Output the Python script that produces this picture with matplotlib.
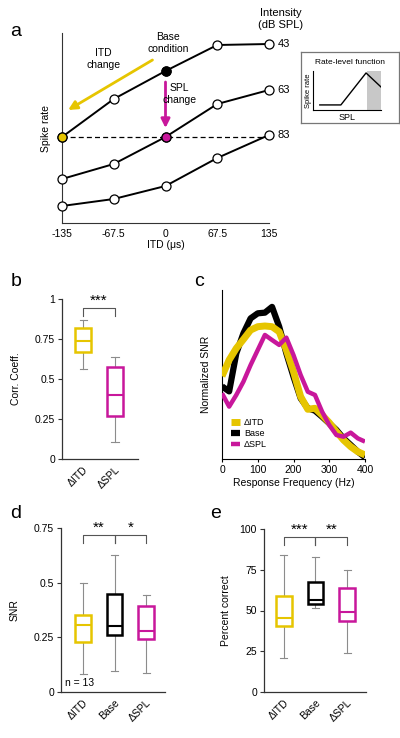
import matplotlib
matplotlib.use("Agg")
import matplotlib.pyplot as plt
import numpy as np

plt.rcParams['font.family'] = ['Liberation Sans', 'DejaVu Sans']

YEL = '#e6c500'
MAG = '#c8179b'
BLK = '#000000'
GRY = '#8c8c8c'

# ---- panel a: schematic tuning curves
itd = [-135, -67.5, 0, 67.5, 135]
rate_43 = [86, 124, 152, 178, 179]
rate_63 = [44, 59, 86, 119, 133]
rate_83 = [17, 24, 37, 65, 88]
intensities = ['43', '63', '83']

# inset rate-level function
rl_spl = [0.1, 0.41, 0.78, 1.0]
rl_rate = [0.13, 0.13, 0.95, 0.59]

# ---- panel b: correlation coefficients
b_labels = ['\u0394ITD', '\u0394SPL']
b_stats = {  # whislo, q1, med, q3, whishi
    '\u0394ITD': [0.56, 0.667, 0.74, 0.82, 0.87],
    '\u0394SPL': [0.108, 0.27, 0.40, 0.573, 0.64],
}

# ---- panel c: normalized SNR vs response frequency
freq = [0, 20, 40, 60, 80, 100, 120, 140, 160, 180, 200,
        220, 240, 260, 280, 300, 320, 340, 360, 380, 400]
snr_itd = [0.49, 0.586, 0.655, 0.708, 0.763, 0.783, 0.787, 0.783, 0.753, 0.645, 0.517,
           0.369, 0.294, 0.30, 0.26, 0.215, 0.162, 0.112, 0.073, 0.043, 0.024]
snr_base = [0.43, 0.40, 0.625, 0.744, 0.832, 0.862, 0.866, 0.90, 0.783, 0.625, 0.487,
            0.359, 0.30, 0.286, 0.25, 0.211, 0.172, 0.122, 0.083, 0.043, 0.01]
snr_spl = [0.389, 0.31, 0.379, 0.458, 0.556, 0.645, 0.734, 0.704, 0.675, 0.718, 0.615,
           0.497, 0.398, 0.379, 0.28, 0.201, 0.142, 0.132, 0.156, 0.122, 0.103]

# ---- panels d, e
de_labels = ['\u0394ITD', 'Base', '\u0394SPL']
d_stats = {
    '\u0394ITD': [0.082, 0.229, 0.305, 0.351, 0.50],
    'Base': [0.097, 0.262, 0.302, 0.448, 0.625],
    '\u0394SPL': [0.086, 0.244, 0.278, 0.393, 0.444],
}
e_stats = {
    '\u0394ITD': [21, 40.4, 45.7, 58.8, 84],
    'Base': [51.6, 54.1, 56.3, 67.4, 82.9],
    '\u0394SPL': [23.7, 43.3, 48.8, 64.1, 74.9],
}

W, H = 400, 738
fig = plt.figure(figsize=(W / 100, H / 100), dpi=100)


def rect(left, top, right, bottom):
    return [left / W, 1 - bottom / H, (right - left) / W, (bottom - top) / H]


def label(x, y, s):
    fig.text(x / W, 1 - y / H, s, fontsize=14, ha='center', va='center')


# ================= panel a
ax = fig.add_axes(rect(62, 33, 269, 223))
for ys in (rate_43, rate_63, rate_83):
    ax.plot(itd, ys, color=BLK, lw=1.4, marker='o', ms=6.5, mfc='white',
            mec=BLK, mew=0.9, clip_on=False, zorder=3)
ax.plot([itd[0], itd[-1]], [rate_43[0], rate_43[0]], ls=(0, (4, 2.5)), color=BLK,
        lw=0.9, zorder=2)
ax.plot(itd[2], rate_43[2], 'o', ms=6.5, mfc=BLK, mec=BLK, zorder=4)
ax.plot(itd[0], rate_43[0], 'o', ms=6.5, mfc=YEL, mec=BLK, mew=0.9, zorder=4, clip_on=False)
ax.plot(itd[2], rate_63[2], 'o', ms=6.5, mfc=MAG, mec=BLK, mew=0.9, zorder=4)
for ys, lab in zip((rate_43, rate_63, rate_83), intensities):
    ax.text(itd[-1] + 11, ys[-1], lab, fontsize=8, va='center', ha='left')
ax.annotate('', xy=(-127, 113), xytext=(-17, 163),
            arrowprops=dict(arrowstyle='-|>', color=YEL, lw=2, mutation_scale=13,
                            shrinkA=0, shrinkB=0))
ax.annotate('', xy=(0, 95), xytext=(0, 141),
            arrowprops=dict(arrowstyle='-|>', color=MAG, lw=2, mutation_scale=13,
                            shrinkA=0, shrinkB=0))
ax.text(-81, 164, 'ITD\nchange', fontsize=7.5, ha='center', va='center', linespacing=1.3)
ax.text(3, 180, 'Base\ncondition', fontsize=7.5, ha='center', va='center', linespacing=1.3)
ax.text(18, 129, 'SPL\nchange', fontsize=7.5, ha='center', va='center', linespacing=1.3)
ax.text(150, 204, 'Intensity\n(dB SPL)', fontsize=8, ha='center', va='center', linespacing=1.2)
ax.set_xlim(-135, 135)
ax.set_ylim(0, 190)
ax.set_xticks(itd)
ax.set_xticklabels(['-135', '-67.5', '0', '67.5', '135'])
ax.set_yticks([])
ax.tick_params(axis='x', length=0, labelsize=7.5, pad=4)
ax.set_xlabel('ITD (\u03bcs)', fontsize=7.5, labelpad=1)
ax.set_ylabel('Spike rate', fontsize=7.5, labelpad=8)
for s in ('top', 'right'):
    ax.spines[s].set_visible(False)
for s in ('left', 'bottom'):
    ax.spines[s].set_color('#333333')
label(16, 31, 'a')

# inset box
box = fig.add_axes(rect(301, 52, 399, 123))
box.set_xticks([])
box.set_yticks([])
for s in box.spines.values():
    s.set_color('#777777')
    s.set_linewidth(0.9)
box.text(0.5, 0.85, 'Rate-level function', fontsize=6, ha='center', va='center',
         transform=box.transAxes)
ins = fig.add_axes(rect(313, 71, 381, 110))
ins.axvspan(0.79, 1.0, color='#c8c8c8', lw=0)
ins.plot(rl_spl, rl_rate, color=BLK, lw=1)
ins.set_xlim(0, 1)
ins.set_ylim(0, 1)
ins.set_xticks([])
ins.set_yticks([])
ins.set_xlabel('SPL', fontsize=6.5, labelpad=2)
ins.set_ylabel('Spike rate', fontsize=5.5, labelpad=1)
for s in ('top', 'right'):
    ins.spines[s].set_visible(False)
for s in ('left', 'bottom'):
    ins.spines[s].set_linewidth(0.8)


# ================= box plot helper
def boxpanel(ax, labels, stats, colors):
    bstats = []
    for lab in labels:
        lo, q1, med, q3, hi = stats[lab]
        bstats.append(dict(whislo=lo, q1=q1, med=med, q3=q3, whishi=hi, fliers=[]))
    pos = np.arange(1, len(labels) + 1)
    res = ax.bxp(bstats, positions=pos, widths=0.5, capwidths=0.22, showfliers=False,
                 patch_artist=True,
                 whiskerprops=dict(color=GRY, lw=0.8),
                 capprops=dict(color=GRY, lw=0.8))
    for i, c in enumerate(colors):
        res['boxes'][i].set_facecolor('white')
        res['boxes'][i].set_edgecolor(c)
        res['boxes'][i].set_linewidth(1.8)
        res['boxes'][i].set_zorder(3)
        res['medians'][i].set_color(c)
        res['medians'][i].set_linewidth(1.5)
        res['medians'][i].set_zorder(4)
    ax.set_xticks(pos)
    ax.set_xticklabels(labels, rotation=45, ha='right', rotation_mode='anchor', fontsize=7.5)
    ax.tick_params(axis='x', length=0, pad=4)
    ax.tick_params(axis='y', length=3, width=0.8, labelsize=7.5, pad=2, color='#333333')
    for s in ('top', 'right'):
        ax.spines[s].set_visible(False)
    for s in ('left', 'bottom'):
        ax.spines[s].set_color('#333333')
        ax.spines[s].set_linewidth(0.9)


def bracket(ax, x0, x1, ytop, ydrop, txt):
    ax.plot([x0, x0, x1, x1], [ytop - ydrop, ytop, ytop, ytop - ydrop], color='#555555',
            lw=0.8, clip_on=False)
    ax.text((x0 + x1) / 2, ytop, txt, ha='center', va='bottom', fontsize=11, clip_on=False)


# ================= panel b
ax = fig.add_axes(rect(62, 299, 138, 459))
boxpanel(ax, b_labels, b_stats, [YEL, MAG])
ax.set_xlim(0.34, 2.72)
ax.set_ylim(0, 1)
ax.set_yticks([0, 0.25, 0.5, 0.75, 1])
ax.set_yticklabels(['0', '0.25', '0.5', '0.75', '1'])
ax.set_ylabel('Corr. Coeff.', fontsize=7.5, labelpad=10)
bracket(ax, 1, 2, 0.946, 0.055, '***')
label(16, 282, 'b')

# ================= panel c
ax = fig.add_axes(rect(222, 290, 365, 459))
ax.plot(freq, snr_base, color=BLK, lw=4.5, solid_capstyle='butt', label='Base', zorder=2)
ax.plot(freq, snr_itd, color=YEL, lw=5, solid_capstyle='butt', label='\u0394ITD', zorder=3)
ax.plot(freq, snr_spl, color=MAG, lw=3.2, solid_capstyle='butt', label='\u0394SPL', zorder=4)
ax.set_xlim(0, 400)
ax.set_ylim(0, 1)
ax.set_xticks([0, 100, 200, 300, 400])
ax.set_yticks([])
ax.tick_params(axis='x', length=2.5, width=0.8, labelsize=7.5, pad=2)
ax.set_xlabel('Response Frequency (Hz)', fontsize=7.5, labelpad=2)
ax.set_ylabel('Normalized SNR', fontsize=7.5, labelpad=8)
for s in ('top', 'right'):
    ax.spines[s].set_visible(False)
h, l = ax.get_legend_handles_labels()
order = [1, 0, 2]
ax.legend([h[i] for i in order], [l[i] for i in order], loc='lower left',
          bbox_to_anchor=(0.02, 0.02), frameon=False, fontsize=6.5, handlelength=1.0,
          handletextpad=0.4, labelspacing=0.25, borderpad=0.2)
label(199, 282, 'c')

# ================= panel d
ax = fig.add_axes(rect(61, 528, 165, 692))
boxpanel(ax, de_labels, d_stats, [YEL, BLK, MAG])
ax.set_xlim(0.3, 3.6)
ax.set_ylim(0, 0.75)
ax.set_yticks([0, 0.25, 0.5, 0.75])
ax.set_yticklabels(['0', '0.25', '0.5', '0.75'])
ax.set_ylabel('SNR', fontsize=7.5, labelpad=10)
bracket(ax, 1, 2, 0.717, 0.037, '**')
bracket(ax, 2, 3, 0.717, 0.037, '*')
ax.text(0.42, 0.04, 'n = 13', fontsize=7.5, ha='left', va='center')
label(16, 514, 'd')

# ================= panel e
ax = fig.add_axes(rect(264, 529, 366, 692))
boxpanel(ax, de_labels, e_stats, [YEL, BLK, MAG])
ax.set_xlim(0.37, 3.6)
ax.set_ylim(0, 100)
ax.set_yticks([0, 25, 50, 75, 100])
ax.set_ylabel('Percent correct', fontsize=7.5, labelpad=6)
bracket(ax, 1, 2, 95.1, 5, '***')
bracket(ax, 2, 3, 95.1, 5, '**')
label(216, 514, 'e')

fig.savefig('out.png', dpi=100)
